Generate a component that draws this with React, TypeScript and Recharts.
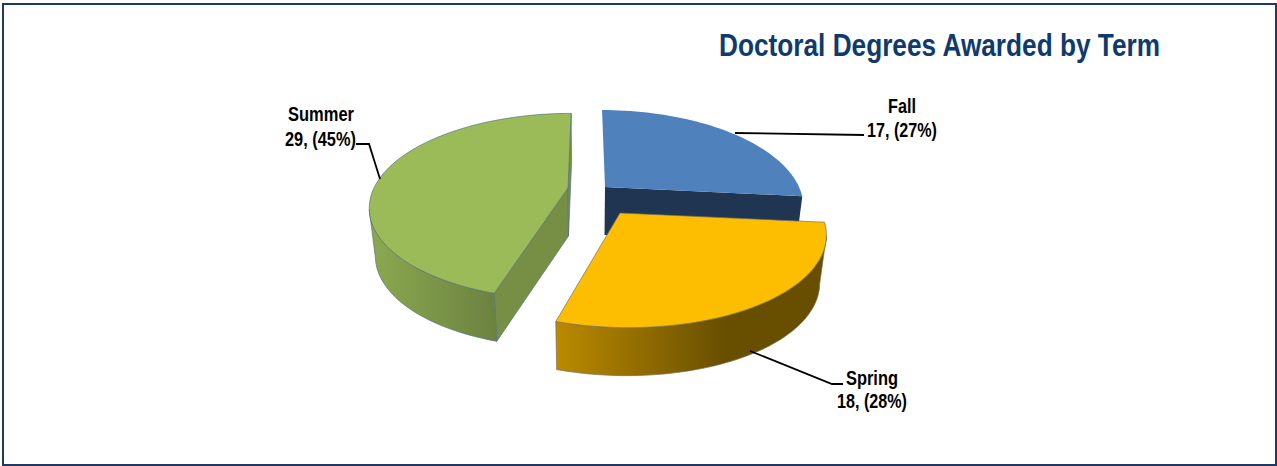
import { Pie, PieChart } from "recharts";

const terms = ["Fall", "Spring", "Summer"];
const degrees = [17, 18, 29];
const topColors = ["#4F81BD", "#FDBD00", "#9BBB59"];
const sideColors = ["#1F3552", "#6A5200", "#778F45"];
const edgeColors = ["none", "#77705a", "#56747a"];
const wallStops = [
  ["#1F3552", "#1F3552"],
  ["#BC8A00", "#684F00"],
  ["#8CA94F", "#6B8240"],
];

const data = terms.map((name, i) => ({ name, value: degrees[i] }));

// screen offset of each exploded slice's apex from the pie centre, plus small per slice fit
const explode = [
  { dx: 18, dy: -23, scale: 0.98, tilt: 1, walls: [false, true] },
  { dx: 33, dy: 3, scale: 1.015, tilt: 1, walls: [false, false] },
  { dx: -19, dy: -22, scale: 0.98, tilt: 0.97, walls: [true, true] },
];

const labelSpots = [
  { lines: [888, 113, 28, 867, 137, 70], leader: "735,133 864,135" },
  { lines: [846, 385, 52, 837, 408, 70], leader: "750,351 832,384 843,384" },
  { lines: [288, 121, 66, 285, 146, 71], leader: "380,179 369,144 356,144" },
];

const TILT = 0.465;
const PERSPECTIVE = 0.197;
const DEPTH = 48;
const BOTTOM_SHRINK = 0.972;
const FONT = "'Liberation Sans Narrow', 'Liberation Sans', Arial, sans-serif";

function SliceShape(props: any) {
  const { cx, cy, outerRadius, startAngle, endAngle, index } = props;
  const off = explode[index];

  const project = (r: number, angle: number, lower = false) => {
    const rad = (angle * Math.PI) / 180;
    const X = r * Math.cos(rad);
    const Y = -r * Math.sin(rad);
    const s = 1 / (1 - PERSPECTIVE * Y);
    let x = cx + (off.dx + outerRadius * off.scale * X) * s;
    let y = cy + off.dy + outerRadius * TILT * off.tilt * Y * s;
    if (lower) {
      x = cx + (x - cx) * BOTTOM_SHRINK;
      y += DEPTH;
    }
    return [x, y];
  };

  const angles: number[] = [];
  const steps = Math.ceil(Math.abs(startAngle - endAngle) / 2);
  for (let i = 0; i <= steps; i++) {
    angles.push(startAngle + ((endAngle - startAngle) * i) / steps);
  }
  const toPath = (pts: number[][]) => "M" + pts.map((p) => p[0].toFixed(2) + " " + p[1].toFixed(2)).join("L") + "Z";

  const top = angles.map((a) => project(1, a));
  const bottom = angles.map((a) => project(1, a, true));
  const apex = project(0, 0);
  const apexLow = project(0, 0, true);

  // the outer wall only shows where the rim runs right to left (near side of the pie)
  const seen = top.map((p, i) => i < top.length - 1 && top[i + 1][0] < p[0]);
  const first = seen.indexOf(true);
  const last = seen.lastIndexOf(true);
  const rimTop = first < 0 ? [] : top.slice(first, last + 2);
  const rimBottom = first < 0 ? [] : bottom.slice(first, last + 2).reverse();

  const gradId = "wall" + index;
  const edge = { stroke: edgeColors[index], strokeWidth: 0.7, strokeLinejoin: "round" as const };

  return (
    <g>
      <defs>
        <linearGradient id={gradId} x1="0" x2="1" y1="0" y2="0">
          <stop offset="0" stopColor={wallStops[index][0]} />
          <stop offset={index === 1 ? 0.62 : 1} stopColor={wallStops[index][1]} />
          <stop offset="1" stopColor={wallStops[index][1]} />
        </linearGradient>
      </defs>
      {off.walls[0] && <path d={toPath([apex, top[0], bottom[0], apexLow])} fill={sideColors[index]} {...edge} />}
      {off.walls[1] && (
        <path d={toPath([apex, top[top.length - 1], bottom[bottom.length - 1], apexLow])} fill={sideColors[index]} {...edge} />
      )}
      {rimTop.length > 0 && <path d={toPath([...rimTop, ...rimBottom])} fill={`url(#${gradId})`} {...edge} />}
      <path d={toPath([apex, ...top])} fill={topColors[index]} {...edge} />
    </g>
  );
}

function SliceLabel(props: any) {
  const { index, name, value, percent } = props;
  const spot = labelSpots[index];
  const [x1, y1, w1, x2, y2, w2] = spot.lines;
  const font = {
    fontFamily: FONT,
    fontWeight: 700,
    fontSize: 20.5,
    fill: "#000000",
    textAnchor: "start" as const,
    lengthAdjust: "spacingAndGlyphs" as const,
  };
  return (
    <g>
      <polyline points={spot.leader} fill="none" stroke="#000000" strokeWidth={1.8} />
      <text x={x1} y={y1} textLength={w1} {...font}>{name}</text>
      <text x={x2} y={y2} textLength={w2} {...font}>{`${value}, (${Math.round(percent * 100)}%)`}</text>
    </g>
  );
}

export default function App() {
  return (
    <div style={{ position: "relative", width: 1277, height: 466, background: "#ffffff" }}>
      <style>{"body{margin:0}"}</style>
      <div
        style={{
          position: "absolute",
          left: 2,
          top: 3,
          width: 1271,
          height: 459,
          border: "2px solid #1F3864",
        }}
      />
      <div style={{ position: "absolute", left: 0, top: 0 }}>
        <PieChart width={1277} height={466} margin={{ top: 0, right: 0, bottom: 0, left: 0 }}>
          <text
            x={719}
            y={56}
            textLength={441}
            lengthAdjust="spacingAndGlyphs"
            fontFamily={FONT}
            fontWeight={700}
            fontSize={32}
            fill="#0F3A6E"
          >
            Doctoral Degrees Awarded by Term
          </text>
          <Pie
            data={data}
            dataKey="value"
            nameKey="name"
            cx={587}
            cy={210}
            outerRadius={198}
            startAngle={90}
            endAngle={-270}
            stroke="none"
            isAnimationActive={false}
            shape={SliceShape}
            label={SliceLabel}
            labelLine={false}
          />
        </PieChart>
      </div>
    </div>
  );
}
